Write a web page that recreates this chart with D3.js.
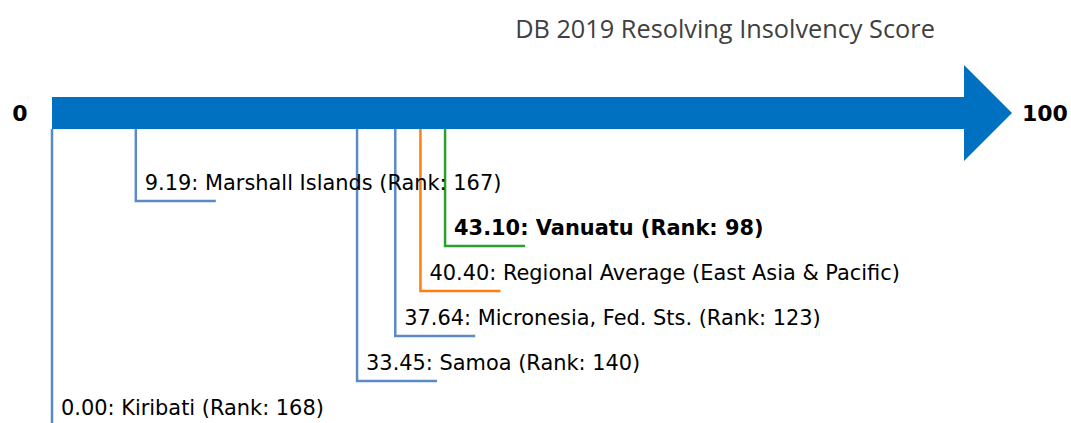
<!DOCTYPE html>
<html>
<head>
<meta charset="utf-8">
<script src="https://cdn.jsdelivr.net/npm/d3@7"></script>
<style>
  body { margin: 0; background: #fff; }
  svg { display: block; }
</style>
</head>
<body>
<svg class="chart"></svg>
<script>
// chart data
var names = ["Kiribati", "Marshall Islands", "Samoa", "Micronesia, Fed. Sts.", "Regional Average (East Asia & Pacific)", "Vanuatu"];
var scores = [0.00, 9.19, 33.45, 37.64, 40.40, 43.10];
var ranks = [168, 167, 140, 123, null, 98];
var levels = [0, 5, 1, 2, 3, 4];   // stacking row of each label, bottom up
var kinds = ["peer", "peer", "peer", "peer", "region", "focus"];
var axisLabels = ["0", "100"];
var title = "DB 2019 Resolving Insolvency Score";

var width = 1071,
    height = 423;

var svg = d3.select(".chart")
    .attr("width", width)
    .attr("height", height);

// x scale for the score, 0 - 100
var x = d3.scaleLinear()
    .domain([0, 100])
    .range([52, 964]);

// y position of each label row
var y = d3.scaleLinear()
    .domain([0, 5])
    .range([426, 201]);

var colors = { peer: "#5b8ac7", region: "#ff7f0e", focus: "#2ca02c" };

var barTop = 97,
    barBottom = 129;

var data = names.map(function(n, i) {
    return { name: n, score: scores[i], rank: ranks[i], level: levels[i], kind: kinds[i] };
});

// the elbow lines
svg.selectAll("path.elbow")
    .data(data).enter()
    .append("path")
    .attr("class", "elbow")
    .attr("d", function(d) {
        var px = x(d.score), py = y(d.level);
        return "M" + px + "," + barBottom + "V" + py + "H" + (px + 80);
    })
    .attr("fill", "none")
    .attr("stroke", function(d) { return colors[d.kind]; })
    .attr("stroke-width", 2.5);

// labels
svg.selectAll("text.label")
    .data(data).enter()
    .append("text")
    .attr("class", "label")
    .attr("x", function(d) { return x(d.score) + 9; })
    .attr("y", function(d) { return y(d.level) - 11; })
    .attr("font-family", "DejaVu Sans")
    .attr("font-size", 20.9)
    .attr("font-weight", function(d) { return d.kind == "focus" ? "bold" : "normal"; })
    .attr("fill", "#000")
    .text(function(d) {
        var s = d.score.toFixed(2) + ": " + d.name;
        if (d.rank != null) s += " (Rank: " + d.rank + ")";
        return s;
    });

// the big arrow
var mid = (barTop + barBottom) / 2;
svg.append("path")
    .attr("d", "M" + x(0) + "," + barTop +
        "H" + x(100) + "V" + 65 +
        "L" + (x(100) + 48) + "," + mid +
        "L" + x(100) + "," + 161 +
        "V" + barBottom + "H" + x(0) + "Z")
    .attr("fill", "#0070c0");

// end labels
svg.append("text")
    .attr("x", 20)
    .attr("y", mid)
    .attr("dy", "0.35em")
    .attr("text-anchor", "middle")
    .attr("font-family", "DejaVu Sans")
    .attr("font-weight", "bold")
    .attr("font-size", 22)
    .text(axisLabels[0]);

svg.append("text")
    .attr("x", x(100) + 58)
    .attr("y", mid)
    .attr("dy", "0.35em")
    .attr("font-family", "DejaVu Sans")
    .attr("font-weight", "bold")
    .attr("font-size", 22)
    .text(axisLabels[1]);

// title
svg.append("text")
    .attr("x", 725)
    .attr("y", 38)
    .attr("text-anchor", "middle")
    .attr("font-family", "Open Sans")
    .attr("font-size", 25.3)
    .attr("fill", "#404040")
    .text(title);
</script>
</body>
</html>
